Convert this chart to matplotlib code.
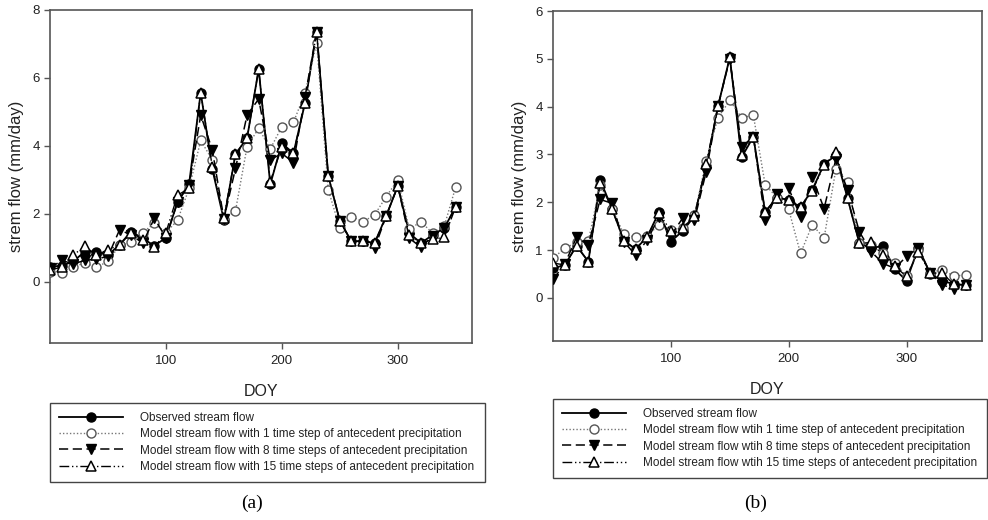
import matplotlib
matplotlib.use("Agg")
import matplotlib.pyplot as plt
from matplotlib.lines import Line2D

plt.rcParams['font.family'] = ['Liberation Sans', 'DejaVu Sans']

# Day of year of each sample
doy = [0, 10, 20, 30, 40, 50, 60, 70, 80, 90, 100, 110, 120, 130, 140, 150, 160, 170,
       180, 190, 200, 210, 220, 230, 240, 250, 260, 270, 280, 290, 300, 310, 320, 330, 340, 350]

# Panel (a)
obs_a = [0.45, 0.47, 0.60, 0.89, 0.89, 0.79, 1.09, 1.48, 1.28, 1.06, 1.30, 2.35, 2.89, 5.57, 3.32, 1.82, 3.76, 4.23,
         6.26, 2.87, 4.08, 3.78, 5.27, 7.36, 3.12, 1.79, 1.19, 1.20, 1.14, 1.94, 2.82, 1.43, 1.14, 1.38, 1.58, 2.21]
m1_a = [0.30, 0.27, 0.45, 0.55, 0.43, 0.60, 1.07, 1.16, 1.45, 1.72, 1.45, 1.81, 2.75, 4.16, 3.59, 1.85, 2.09, 3.98,
        4.52, 3.91, 4.57, 4.69, 5.57, 7.02, 2.71, 1.58, 1.92, 1.77, 1.97, 2.51, 3.00, 1.55, 1.77, 1.43, 1.63, 2.80]
m8_a = [0.40, 0.63, 0.53, 0.63, 0.67, 0.75, 1.53, 1.38, 1.14, 1.87, 1.30, 2.35, 2.85, 4.91, 3.88, 1.85, 3.34, 4.91,
        5.38, 3.59, 3.78, 3.51, 5.45, 7.36, 3.12, 1.79, 1.19, 1.20, 0.99, 1.94, 2.82, 1.28, 1.02, 1.35, 1.58, 2.21]
m15_a = [0.35, 0.43, 0.79, 1.04, 0.79, 0.94, 1.09, 1.45, 1.24, 1.02, 1.45, 2.55, 2.75, 5.57, 3.38, 1.89, 3.76, 4.23,
         6.26, 2.95, 3.98, 3.78, 5.27, 7.36, 3.12, 1.79, 1.19, 1.20, 1.14, 1.94, 2.82, 1.38, 1.14, 1.25, 1.31, 2.21]

# Panel (b)
obs_b = [0.62, 0.69, 1.09, 0.76, 2.47, 1.87, 1.21, 1.02, 1.28, 1.80, 1.18, 1.40, 1.71, 2.75, 4.01, 5.03, 2.94, 3.37,
         1.80, 2.10, 2.05, 1.90, 2.26, 2.80, 2.98, 2.08, 1.14, 1.04, 1.09, 0.60, 0.36, 1.05, 0.51, 0.36, 0.29, 0.27]
m1_b = [0.83, 1.04, 1.16, 1.19, 2.36, 1.87, 1.34, 1.27, 1.30, 1.53, 1.42, 1.46, 1.73, 2.87, 3.77, 4.13, 3.77, 3.82,
        2.37, 2.10, 1.85, 0.93, 1.53, 1.25, 2.69, 2.43, 1.14, 1.11, 0.93, 0.74, 0.45, 1.00, 0.53, 0.59, 0.46, 0.48]
m8_b = [0.39, 0.71, 1.27, 1.11, 2.06, 1.98, 1.18, 0.90, 1.21, 1.70, 1.30, 1.67, 1.63, 2.64, 4.01, 5.00, 3.16, 3.37,
        1.63, 2.17, 2.29, 1.70, 2.52, 1.87, 2.90, 2.26, 1.38, 0.97, 0.72, 0.62, 0.87, 1.04, 0.52, 0.28, 0.19, 0.27]
m15_b = [0.73, 0.69, 1.09, 0.76, 2.41, 1.87, 1.20, 1.02, 1.28, 1.77, 1.40, 1.46, 1.71, 2.80, 4.01, 5.03, 2.98, 3.37,
         1.80, 2.10, 2.05, 1.90, 2.24, 2.78, 3.06, 2.08, 1.14, 1.16, 0.90, 0.66, 0.45, 0.97, 0.52, 0.52, 0.29, 0.27]

labels_a = ["Observed stream flow",
            "Model stream flow with 1 time step of antecedent precipitation",
            "Model stream flow with 8 time steps of antecedent precipitation",
            "Model stream flow with 15 time steps of antecedent precipitation"]
labels_b = ["Observed stream flow",
            "Model stream flow wtih 1 time step of antecedent precipitation",
            "Model stream flow wtih 8 time steps of antecedent precipitation",
            "Model stream flow wtih 15 time steps of antecedent precipitation"]

ms = 6.5
styles = [
    dict(color='black', linestyle='-', linewidth=1.3, marker='o', markersize=ms,
         markerfacecolor='black', markeredgecolor='black'),
    dict(color='#777777', linestyle=(0, (1, 1.5)), linewidth=1.0, marker='o', markersize=ms,
         markerfacecolor='white', markeredgecolor='#555555', markeredgewidth=1.0),
    dict(color='black', linestyle=(0, (6, 3)), linewidth=1.1, marker='v', markersize=ms,
         markerfacecolor='black', markeredgecolor='black'),
    dict(color='black', linestyle=(0, (7, 2, 1, 2, 1, 2)), linewidth=1.0, marker='^', markersize=ms,
         markerfacecolor='white', markeredgecolor='black', markeredgewidth=1.1),
]

fig = plt.figure(figsize=(9.88, 5.2), dpi=100)
W, H = 988.0, 520.0


def panel(rect_px, series, ylim, yticks, labels, legend_px, caption, caption_x):
    x0, x1, y0, y1 = rect_px
    ax = fig.add_axes([x0 / W, 1 - y1 / H, (x1 - x0) / W, (y1 - y0) / H])
    for ys, st in zip(series, styles):
        ax.plot(doy, ys, **st, zorder=3)
    ax.set_xlim(0, 364)
    ax.set_ylim(*ylim)
    ax.set_xticks([100, 200, 300])
    ax.set_yticks(yticks)
    for s in ax.spines.values():
        s.set_color('#555555')
        s.set_linewidth(1.2)
    ax.tick_params(direction='out', length=4, width=1, colors='#555555',
                   labelcolor='#222222', labelsize=9.5)
    ax.tick_params(axis='x', pad=5)
    ax.set_xlabel("DOY", fontsize=11.5, color='#222222', labelpad=12)
    ax.set_ylabel("strem flow (mm/day)", fontsize=12, color='#222222', labelpad=6)

    handles = [Line2D([0], [0], **st) for st in styles]
    lx0, lx1, ly0 = legend_px
    leg = fig.legend(handles, labels, loc='upper left',
                     bbox_to_anchor=(lx0 / W, 1 - ly0 / H - 0.01, (lx1 - lx0) / W, 0.01),
                     mode='expand', fontsize=8.5, handlelength=5.4, handletextpad=1.5,
                     labelspacing=0.37, borderpad=0.75, fancybox=False, framealpha=1,
                     edgecolor='#444444', borderaxespad=0, numpoints=1)
    leg.get_frame().set_linewidth(1.0)
    for t in leg.get_texts():
        t.set_color('#222222')
    fig.text(caption_x / W, 1 - 503 / H, caption, ha='center', va='center',
             fontsize=14, family='Liberation Serif')
    return ax


panel((50, 472, 10, 343), [obs_a, m1_a, m8_a, m15_a], (-1.8, 8), [0, 2, 4, 6, 8],
      labels_a, (50, 485, 403), "(a)", 252)
panel((553, 982, 11, 341), [obs_b, m1_b, m8_b, m15_b], (-0.9, 6), [0, 1, 2, 3, 4, 5, 6],
      labels_b, (553, 987, 399), "(b)", 756)

fig.savefig("out.png", dpi=100)
